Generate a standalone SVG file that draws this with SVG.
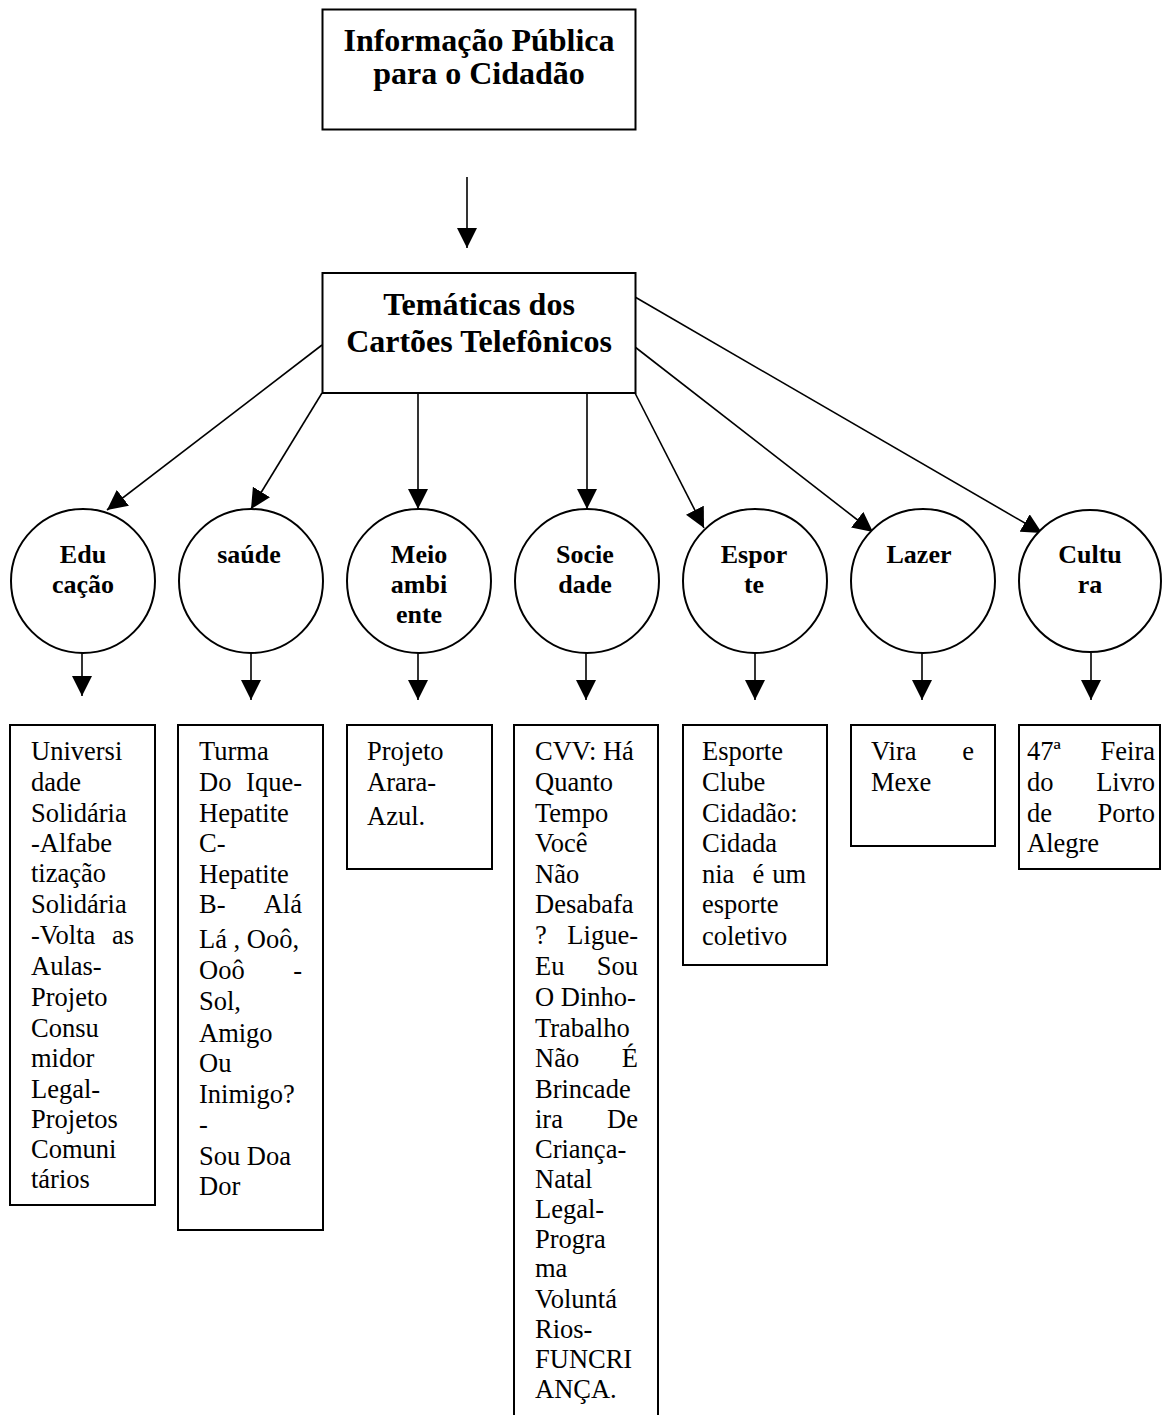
<svg xmlns="http://www.w3.org/2000/svg" width="1162" height="1415" viewBox="0 0 1162 1415">
<style>
.box{fill:#fff;stroke:#000;stroke-width:2}
.circ{fill:#fff;stroke:#000;stroke-width:2}
.conn{stroke:#000;stroke-width:1.6;fill:none;marker-end:url(#ah)}
.title{font-family:"Liberation Serif","Times New Roman",serif;font-weight:bold;font-size:32px;text-anchor:middle;fill:#000}
.ctext{font-family:"Liberation Serif","Times New Roman",serif;font-weight:bold;font-size:26px;text-anchor:middle;fill:#000}
.body{font-family:"Liberation Serif","Times New Roman",serif;font-size:26.5px;fill:#000}
.end{text-anchor:end}
</style>
<defs>
<marker id="ah" markerUnits="userSpaceOnUse" markerWidth="20" markerHeight="20" refX="20" refY="10" orient="auto" viewBox="0 0 20 20">
<path d="M0,0 L20,10 L0,20 z" fill="#000"/>
</marker>
</defs>

<g id="connectors">
<line class="conn" x1="467" y1="177" x2="467" y2="248"/>
<line class="conn" x1="322" y1="345" x2="107" y2="510"/>
<line class="conn" x1="322" y1="393" x2="251" y2="509"/>
<line class="conn" x1="418" y1="393" x2="418" y2="509"/>
<line class="conn" x1="587" y1="393" x2="587" y2="509"/>
<line class="conn" x1="635" y1="393" x2="704" y2="528"/>
<line class="conn" x1="635" y1="347" x2="873" y2="532"/>
<line class="conn" x1="635" y1="297" x2="1042" y2="533"/>
<line class="conn" x1="82" y1="653" x2="82" y2="696"/>
<line class="conn" x1="251" y1="653" x2="251" y2="700"/>
<line class="conn" x1="418" y1="653" x2="418" y2="700"/>
<line class="conn" x1="586" y1="653" x2="586" y2="700"/>
<line class="conn" x1="755" y1="653" x2="755" y2="700"/>
<line class="conn" x1="922" y1="653" x2="922" y2="700"/>
<line class="conn" x1="1091" y1="653" x2="1091" y2="700"/>
</g>

<g id="n-info">
<rect class="box" x="322.5" y="9.5" width="313" height="120"/>
<text class="title" x="479" y="51">Informação Pública</text>
<text class="title" x="479" y="84">para o Cidadão</text>
</g>

<g id="n-tematicas">
<rect class="box" x="322.5" y="273" width="313" height="120"/>
<text class="title" x="479" y="315">Temáticas dos</text>
<text class="title" x="479" y="352">Cartões Telefônicos</text>
</g>

<g id="c-educacao">
<circle class="circ" cx="83" cy="581" r="72"/>
<text class="ctext" x="83" y="563">Edu</text>
<text class="ctext" x="83" y="593">cação</text>
</g>
<g id="c-saude">
<circle class="circ" cx="251" cy="581" r="72"/>
<text class="ctext" x="249" y="563">saúde</text>
</g>
<g id="c-meio">
<circle class="circ" cx="419" cy="581" r="72"/>
<text class="ctext" x="419" y="563">Meio</text>
<text class="ctext" x="419" y="593">ambi</text>
<text class="ctext" x="419" y="623">ente</text>
</g>
<g id="c-sociedade">
<circle class="circ" cx="587" cy="581" r="72"/>
<text class="ctext" x="585" y="563">Socie</text>
<text class="ctext" x="585" y="593">dade</text>
</g>
<g id="c-esporte">
<circle class="circ" cx="755" cy="581" r="72"/>
<text class="ctext" x="754" y="563">Espor</text>
<text class="ctext" x="754" y="593">te</text>
</g>
<g id="c-lazer">
<circle class="circ" cx="923" cy="581" r="72"/>
<text class="ctext" x="919" y="563">Lazer</text>
</g>
<g id="c-cultura">
<circle class="circ" cx="1090" cy="581" r="71"/>
<text class="ctext" x="1090" y="563">Cultu</text>
<text class="ctext" x="1090" y="593">ra</text>
</g>

<g id="b-educacao">
<rect class="box" x="10" y="725" width="145" height="480"/>
<text class="body" x="31" y="760">Universi</text>
<text class="body" x="31" y="791">dade</text>
<text class="body" x="31" y="821.7">Solidária</text>
<text class="body" x="31" y="851.7">-Alfabe</text>
<text class="body" x="31" y="882.3">tização</text>
<text class="body" x="31" y="913.3">Solidária</text>
<text class="body" x="31" y="944">-Volta</text><text class="body end" x="134" y="944">as</text>
<text class="body" x="31" y="975">Aulas-</text>
<text class="body" x="31" y="1006">Projeto</text>
<text class="body" x="31" y="1036.7">Consu</text>
<text class="body" x="31" y="1066.7">midor</text>
<text class="body" x="31" y="1097.7">Legal-</text>
<text class="body" x="31" y="1128.3">Projetos</text>
<text class="body" x="31" y="1158.3">Comuni</text>
<text class="body" x="31" y="1188.3">tários</text>
</g>

<g id="b-saude">
<rect class="box" x="178" y="725" width="145" height="505"/>
<text class="body" x="199" y="760">Turma</text>
<text class="body" x="199" y="790.7">Do</text><text class="body end" x="302" y="790.7">Ique-</text>
<text class="body" x="199" y="821.7">Hepatite</text>
<text class="body" x="199" y="851.7">C-</text>
<text class="body" x="199" y="883.3">Hepatite</text>
<text class="body" x="199" y="913.3">B-</text><text class="body end" x="302" y="913.3">Alá</text>
<text class="body" x="199" y="948.3">Lá , Ooô,</text>
<text class="body" x="199" y="979.3">Ooô</text><text class="body end" x="302" y="979.3">-</text>
<text class="body" x="199" y="1010">Sol,</text>
<text class="body" x="199" y="1041.7">Amigo</text>
<text class="body" x="199" y="1071.7">Ou</text>
<text class="body" x="199" y="1102.7">Inimigo?</text>
<text class="body" x="199" y="1133.3">-</text>
<text class="body" x="199" y="1165">Sou Doa</text>
<text class="body" x="199" y="1195">Dor</text>
</g>

<g id="b-meio">
<rect class="box" x="347" y="725" width="145" height="144"/>
<text class="body" x="367" y="760">Projeto</text>
<text class="body" x="367" y="791">Arara-</text>
<text class="body" x="367" y="825">Azul.</text>
</g>

<g id="b-sociedade">
<rect class="box" x="514" y="725" width="144" height="710"/>
<text class="body" x="535" y="760">CVV: Há</text>
<text class="body" x="535" y="791">Quanto</text>
<text class="body" x="535" y="821.7">Tempo</text>
<text class="body" x="535" y="851.7">Você</text>
<text class="body" x="535" y="883">Não</text>
<text class="body" x="535" y="913.3">Desabafa</text>
<text class="body" x="535" y="944">?</text><text class="body end" x="638" y="944">Ligue-</text>
<text class="body" x="535" y="975">Eu</text><text class="body end" x="638" y="975">Sou</text>
<text class="body" x="535" y="1006">O Dinho-</text>
<text class="body" x="535" y="1036.7">Trabalho</text>
<text class="body" x="535" y="1067">Não</text><text class="body end" x="638" y="1067">É</text>
<text class="body" x="535" y="1097.7">Brincade</text>
<text class="body" x="535" y="1128.3">ira</text><text class="body end" x="638" y="1128.3">De</text>
<text class="body" x="535" y="1158.3">Criança-</text>
<text class="body" x="535" y="1188.3">Natal</text>
<text class="body" x="535" y="1218.3">Legal-</text>
<text class="body" x="535" y="1248.3">Progra</text>
<text class="body" x="535" y="1277">ma</text>
<text class="body" x="535" y="1308.3">Voluntá</text>
<text class="body" x="535" y="1338.3">Rios-</text>
<text class="body" x="535" y="1368.3">FUNCRI</text>
<text class="body" x="535" y="1398.3">ANÇA.</text>
</g>

<g id="b-esporte">
<rect class="box" x="683" y="725" width="144" height="240"/>
<text class="body" x="702" y="760">Esporte</text>
<text class="body" x="702" y="791">Clube</text>
<text class="body" x="702" y="821.7">Cidadão:</text>
<text class="body" x="702" y="851.7">Cidada</text>
<text class="body" x="702" y="883">nia</text><text class="body" x="752.5" y="883">é</text><text class="body end" x="806" y="883">um</text>
<text class="body" x="702" y="913.3">esporte</text>
<text class="body" x="702" y="945">coletivo</text>
</g>

<g id="b-lazer">
<rect class="box" x="851" y="725" width="144" height="121"/>
<text class="body" x="871" y="760">Vira</text><text class="body end" x="974" y="760">e</text>
<text class="body" x="871" y="791">Mexe</text>
</g>

<g id="b-cultura">
<rect class="box" x="1019" y="725" width="141" height="144"/>
<text class="body" x="1027" y="760">47ª</text><text class="body end" x="1155" y="760">Feira</text>
<text class="body" x="1027" y="791">do</text><text class="body end" x="1155" y="791">Livro</text>
<text class="body" x="1027" y="821.7">de</text><text class="body end" x="1155" y="821.7">Porto</text>
<text class="body" x="1027" y="851.7">Alegre</text>
</g>
</svg>
